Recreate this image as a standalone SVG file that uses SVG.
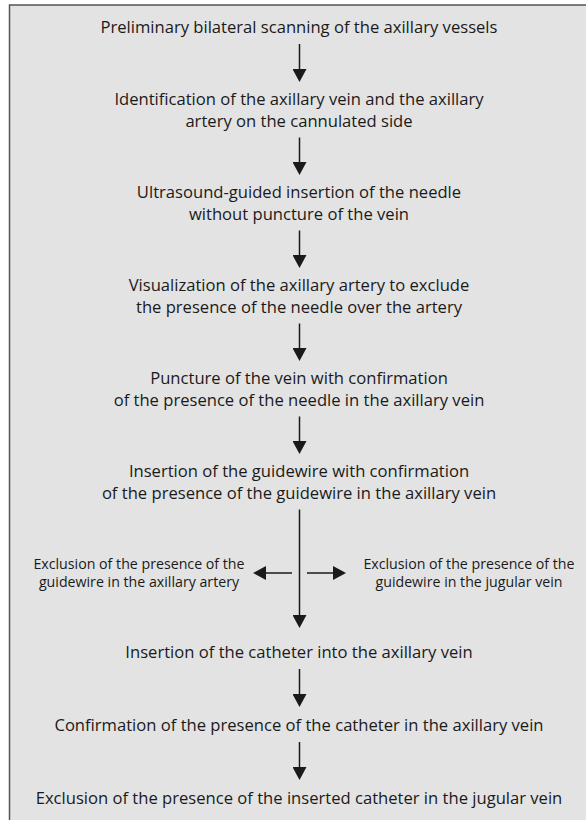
<svg xmlns="http://www.w3.org/2000/svg" width="586" height="820" viewBox="0 0 586 820">
<style>
  .t { font-family: "Open Sans", "Liberation Sans", sans-serif; font-size: 16.6px; fill: #1a1a1a; text-anchor: middle; }
  .s { font-family: "Open Sans", "Liberation Sans", sans-serif; font-size: 14.2px; fill: #1a1a1a; text-anchor: middle; }
  .c { stroke: #1a1a1a; stroke-width: 1.5; fill: none; }
</style>
<defs>
  <marker id="ah" markerUnits="userSpaceOnUse" viewBox="0 -7 13 14" refX="0" refY="0" markerWidth="13" markerHeight="14" orient="auto">
    <path d="M0,-7 L13,0 L0,7 z" fill="#1a1a1a"/>
  </marker>
</defs>
<rect x="0" y="0" width="586" height="820" fill="#ffffff"/>
<rect id="frame" x="9.5" y="5" width="600" height="830" fill="#e3e3e3" stroke="#555555" stroke-width="1.5"/>
<g id="n1"><text class="t" x="299" y="33">Preliminary bilateral scanning of the axillary vessels</text></g>
<g id="n2"><text class="t" x="299" y="105.3">Identification of the axillary vein and the axillary</text><text class="t" x="299" y="126.7">artery on the cannulated side</text></g>
<g id="n3"><text class="t" x="299" y="198.3">Ultrasound-guided insertion of the needle</text><text class="t" x="299" y="219.7">without puncture of the vein</text></g>
<g id="n4"><text class="t" x="299" y="291.3">Visualization of the axillary artery to exclude</text><text class="t" x="299" y="312.7">the presence of the needle over the artery</text></g>
<g id="n5"><text class="t" x="299" y="384.3">Puncture of the vein with confirmation</text><text class="t" x="299" y="405.7">of the presence of the needle in the axillary vein</text></g>
<g id="n6"><text class="t" x="299" y="477.3">Insertion of the guidewire with confirmation</text><text class="t" x="299" y="498.7">of the presence of the guidewire in the axillary vein</text></g>
<g id="n7"><text class="s" x="139" y="569">Exclusion of the presence of the</text><text class="s" x="139" y="587">guidewire in the axillary artery</text></g>
<g id="n8"><text class="s" x="469" y="569">Exclusion of the presence of the</text><text class="s" x="469" y="587">guidewire in the jugular vein</text></g>
<g id="n9"><text class="t" x="299" y="658">Insertion of the catheter into the axillary vein</text></g>
<g id="n10"><text class="t" x="299" y="731">Confirmation of the presence of the catheter in the axillary vein</text></g>
<g id="n11"><text class="t" x="299" y="804">Exclusion of the presence of the inserted catheter in the jugular vein</text></g>
<g id="connectors">
  <line class="c" x1="299.5" y1="44" x2="299.5" y2="69" marker-end="url(#ah)"/>
  <line class="c" x1="299.5" y1="137.5" x2="299.5" y2="162" marker-end="url(#ah)"/>
  <line class="c" x1="299.5" y1="230.5" x2="299.5" y2="255" marker-end="url(#ah)"/>
  <line class="c" x1="299.5" y1="323.5" x2="299.5" y2="348" marker-end="url(#ah)"/>
  <line class="c" x1="299.5" y1="416.5" x2="299.5" y2="441" marker-end="url(#ah)"/>
  <line class="c" x1="299.5" y1="509.5" x2="299.5" y2="615" marker-end="url(#ah)"/>
  <line class="c" x1="292" y1="573" x2="266" y2="573" marker-end="url(#ah)"/>
  <line class="c" x1="307" y1="573" x2="333" y2="573" marker-end="url(#ah)"/>
  <line class="c" x1="299.5" y1="669" x2="299.5" y2="694" marker-end="url(#ah)"/>
  <line class="c" x1="299.5" y1="742" x2="299.5" y2="767" marker-end="url(#ah)"/>
</g>
</svg>
